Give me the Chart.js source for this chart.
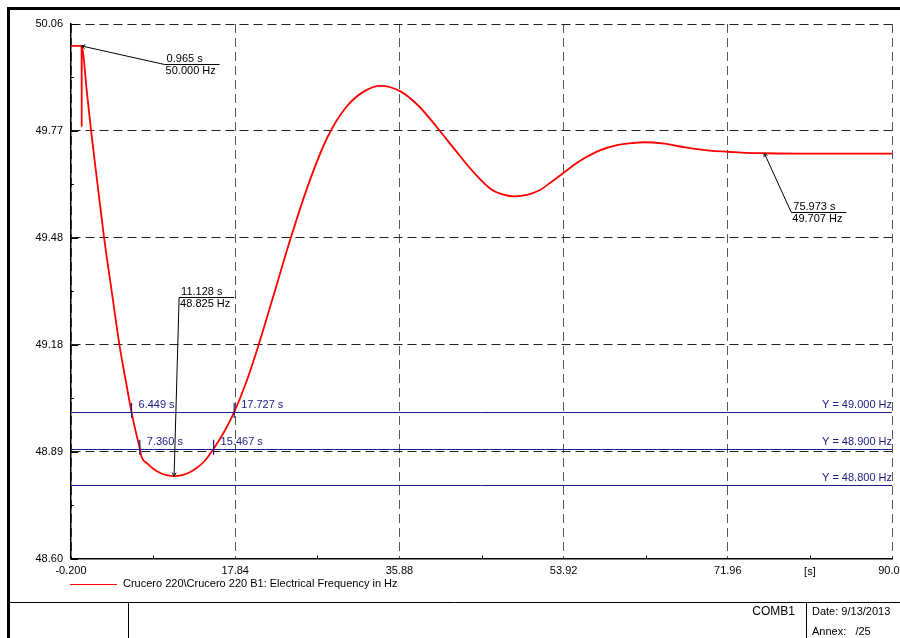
<!DOCTYPE html>
<html>
<head>
<meta charset="utf-8">
<script src="https://cdn.jsdelivr.net/npm/chart.js@4.4.0/dist/chart.umd.min.js"></script>
<style>
  html, body { margin: 0; padding: 0; background: #fff; }
  canvas { display: block; }
</style>
</head>
<body>
<canvas id="c" width="900" height="638"></canvas>
<script>
// Bus frequency after the disturbance (time in s, frequency in Hz)
const timeS = [-0.2, 0.965, 0.975, 0.985, 1.5, 2.0, 2.7, 3.43, 4.3, 5.11, 5.8, 6.449, 6.9, 7.36, 7.55,
  8.2, 8.84, 9.5, 10.3, 11.128, 12.0, 12.8, 13.6, 14.5, 15.467, 16.6, 17.727, 19.0, 20.37, 22.0,
  24.0, 26.0, 28.0, 30.0, 32.0, 33.8, 36.0, 38.0, 40.0, 42.0, 44.0, 46.0, 47.3, 48.6, 49.9, 51.2,
  52.5, 53.9, 55.0, 56.1, 57.9, 59.8, 61.6, 62.7, 65.0, 67.07, 70.0, 72.0, 74.0, 75.973, 80.0, 85.0,
  90.0];
const freqHz = [50.000, 50.000, 49.779, 50.000, 49.885, 49.770, 49.625, 49.477, 49.325, 49.185, 49.088,
  49.000, 48.948, 48.900, 48.878, 48.859, 48.845, 48.835, 48.828, 48.825, 48.828, 48.835, 48.847,
  48.867, 48.900, 48.945, 49.000, 49.078, 49.180, 49.314, 49.480, 49.630, 49.752, 49.832, 49.876,
  49.891, 49.876, 49.836, 49.778, 49.716, 49.656, 49.608, 49.594, 49.589, 49.593, 49.605, 49.627,
  49.653, 49.674, 49.692, 49.715, 49.729, 49.735, 49.737, 49.733, 49.724, 49.714, 49.711, 49.708,
  49.707, 49.706, 49.706, 49.706];

const seriesName = 'Crucero 220\\Crucero 220 B1: Electrical Frequency in Hz';

// Axis ticks
const xTickValues = [-0.2, 17.84, 35.88, 53.92, 71.96, 90.0];
const xTickLabels = ['-0.200', '17.84', '35.88', '53.92', '71.96', '90.00'];
const xUnitLabel = '[s]';
const yTickValues = [48.60, 48.892, 49.184, 49.476, 49.768, 50.06];
const yTickLabels = ['48.60', '48.89', '49.18', '49.48', '49.77', '50.06'];

// Horizontal threshold lines
const thresholdHz = [49.0, 48.9, 48.8];

// Times where the curve crosses the thresholds
const crossingTimes = [6.449, 17.727, 7.360, 15.467];
const crossingHz = [49.0, 49.0, 48.9, 48.9];

// Marked points on the curve
const markerTimes = [0.965, 11.128, 75.973];
const markerHz = [50.000, 48.825, 49.707];

// Footer block
const footerCase = 'COMB1';
const footerDate = 'Date: 9/13/2013';
const footerAnnex = 'Annex:   /25';

const FONT = "'Liberation Sans', Arial, Helvetica, sans-serif";
const NAVY = '#1a1a88';
Chart.defaults.font.family = FONT;
Chart.defaults.font.size = 11;
Chart.defaults.color = '#000';

const curve = timeS.map((t, i) => ({ x: t, y: freqHz[i] }));
const xMin = xTickValues[0], xMax = xTickValues[xTickValues.length - 1];

// Callout leader offsets (px) from the marked point to the start of the underline
const calloutOffsets = [[83, 18], [5, -179], [27, 59]];

function seg(ctx, x1, y1, x2, y2) {
  ctx.beginPath(); ctx.moveTo(x1, y1); ctx.lineTo(x2, y2); ctx.stroke();
}

const overlay = {
  id: 'overlay',
  beforeDatasetsDraw(chart) {
    const { ctx, chartArea: a } = chart;
    const y = chart.scales.y;
    ctx.save();
    // threshold lines under the curve
    ctx.strokeStyle = NAVY;
    ctx.lineWidth = 1;
    thresholdHz.forEach(h => {
      const py = Math.round(y.getPixelForValue(h)) + 0.5;
      seg(ctx, a.left, py, a.right, py);
    });
    ctx.restore();
  },
  afterDatasetsDraw(chart) {
    const { ctx, chartArea: a } = chart;
    const x = chart.scales.x, y = chart.scales.y;
    ctx.save();

    // inward tick marks, major and minor
    ctx.strokeStyle = '#000';
    ctx.lineWidth = 1;
    yTickValues.forEach((v, i) => {
      const py = Math.round(y.getPixelForValue(v)) + 0.5;
      seg(ctx, a.left, py, a.left + 7, py);
      if (i < yTickValues.length - 1) {
        const pm = Math.round(y.getPixelForValue((v + yTickValues[i + 1]) / 2)) + 0.5;
        seg(ctx, a.left, pm, a.left + 3, pm);
      }
    });
    xTickValues.forEach((v, i) => {
      if (i < xTickValues.length - 1) {
        const pm = Math.round(x.getPixelForValue((v + xTickValues[i + 1]) / 2)) + 0.5;
        seg(ctx, pm, a.bottom, pm, a.bottom - 3);
      }
    });

    // threshold labels
    ctx.fillStyle = NAVY;
    ctx.font = '11px ' + FONT;
    ctx.textAlign = 'right';
    ctx.textBaseline = 'middle';
    thresholdHz.forEach(h => {
      const py = y.getPixelForValue(h);
      ctx.fillText('Y = ' + h.toFixed(3) + ' Hz', a.right, py - 7);
    });

    // crossing marks and their times
    ctx.strokeStyle = NAVY;
    ctx.lineWidth = 1.2;
    ctx.textAlign = 'left';
    crossingTimes.forEach((t, i) => {
      const px = x.getPixelForValue(t), py = y.getPixelForValue(crossingHz[i]);
      seg(ctx, px, py - 9, px, py + 6);
      ctx.fillText(t.toFixed(3) + ' s', px + 7, py - 7);
    });

    // callouts for marked points
    ctx.strokeStyle = '#000';
    ctx.fillStyle = '#000';
    ctx.lineWidth = 1;
    markerTimes.forEach((t, i) => {
      const px = x.getPixelForValue(t), py = y.getPixelForValue(markerHz[i]);
      const ux = px + calloutOffsets[i][0], uy = Math.round(py + calloutOffsets[i][1]) + 0.5;
      seg(ctx, px, py, ux, uy);
      seg(ctx, ux, uy, ux + 55, uy);
      // small arrow head at the point
      const ang = Math.atan2(uy - py, ux - px);
      seg(ctx, px, py, px + 4 * Math.cos(ang + 0.5), py + 4 * Math.sin(ang + 0.5));
      seg(ctx, px, py, px + 4 * Math.cos(ang - 0.5), py + 4 * Math.sin(ang - 0.5));
      ctx.textAlign = 'left';
      ctx.fillText(t.toFixed(3) + ' s', ux + 2, uy - 6);
      ctx.fillText(markerHz[i].toFixed(3) + ' Hz', ux + 1, uy + 6);
    });

    // unit label on the time axis
    ctx.textAlign = 'center';
    const ux = x.getPixelForValue((xTickValues[4] + xTickValues[5]) / 2);
    ctx.fillText(xUnitLabel, ux, a.bottom + 13);

    ctx.restore();
  },
  afterDraw(chart) {
    const { ctx } = chart;
    ctx.save();
    // legend
    ctx.strokeStyle = '#ff0000';
    ctx.lineWidth = 1;
    seg(ctx, 70, 584.5, 117, 584.5);
    ctx.fillStyle = '#000';
    ctx.font = '11px ' + FONT;
    ctx.textAlign = 'left';
    ctx.textBaseline = 'middle';
    ctx.fillText(seriesName, 123, 584);

    // outer frame
    ctx.fillStyle = '#000';
    ctx.fillRect(7, 7, 893, 3);
    ctx.fillRect(7, 7, 3, 631);

    // footer block
    ctx.strokeStyle = '#000';
    ctx.lineWidth = 1;
    seg(ctx, 9, 602.5, 900, 602.5);
    seg(ctx, 128.5, 602, 128.5, 638);
    seg(ctx, 806.5, 602, 806.5, 638);
    ctx.font = '12px ' + FONT;
    ctx.textAlign = 'right';
    ctx.fillText(footerCase, 795, 612);
    ctx.font = '11px ' + FONT;
    ctx.textAlign = 'left';
    ctx.fillText(footerDate, 812, 612);
    ctx.fillText(footerAnnex, 812, 632);
    ctx.restore();
  }
};

new Chart(document.getElementById('c'), {
  type: 'scatter',
  data: {
    datasets: [{
      label: seriesName,
      data: curve,
      showLine: true,
      borderColor: '#ff0000',
      borderWidth: 1.8,
      pointRadius: 0,
      cubicInterpolationMode: 'monotone'
    }]
  },
  options: {
    responsive: false,
    animation: false,
    devicePixelRatio: 1,
    layout: { padding: { left: 0, top: 24, right: 8, bottom: 49.5 } },
    plugins: { legend: { display: false }, tooltip: { enabled: false } },
    scales: {
      x: {
        type: 'linear',
        min: xMin,
        max: xMax,
        afterBuildTicks: s => { s.ticks = xTickValues.map(v => ({ value: v })); },
        afterFit: s => { s.height = 30; s.paddingLeft = 0; s.paddingRight = 0; },
        ticks: { autoSkip: false, maxRotation: 0, padding: 5.5, callback: (v, i) => xTickLabels[i] },
        grid: { color: '#555', lineWidth: 1, drawTicks: false },
        border: { display: true, color: '#000', width: 1.5, dash: [9, 5] }
      },
      y: {
        type: 'linear',
        min: yTickValues[0],
        max: yTickValues[yTickValues.length - 1],
        afterBuildTicks: s => { s.ticks = yTickValues.map(v => ({ value: v })); },
        afterFit: s => { s.width = 71; s.paddingTop = 0; s.paddingBottom = 0; },
        ticks: { autoSkip: false, padding: 8, callback: (v, i) => yTickLabels[i] },
        grid: { color: '#222', lineWidth: 1, drawTicks: false },
        border: { display: true, color: '#000', width: 1.5, dash: [9, 5] }
      }
    }
  },
  plugins: [overlay]
});
</script>
</body>
</html>
